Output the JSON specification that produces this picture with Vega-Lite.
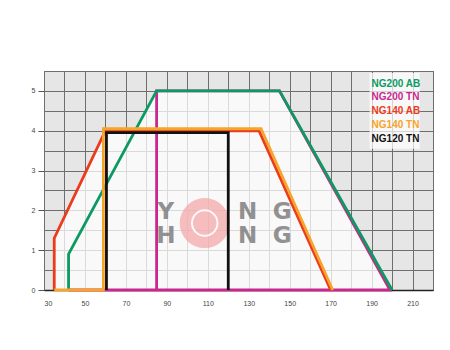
{
  "$schema": "https://vega.github.io/schema/vega-lite/v6.json",
  "width": 389,
  "height": 219,
  "autosize": "none",
  "padding": {"left": 44, "top": 71, "right": 17, "bottom": 60},
  "background": "white",
  "config": {
    "view": {"fill": "#e6e6e6", "stroke": "#777", "strokeWidth": 1},
    "font": "Liberation Sans"
  },
  "datasets": {
    "lines": [
      {"series": "NG200 TN", "o": 1, "x": 42, "y": 0},
      {"series": "NG200 TN", "o": 2, "x": 199, "y": 0},
      {"series": "NG200 TN", "o": 3, "x": 145, "y": 5},
      {"series": "NG200 TN", "o": 4, "x": 85, "y": 5},
      {"series": "NG200 TN", "o": 5, "x": 85, "y": 0},
      {"series": "NG200 AB", "o": 1, "x": 42, "y": 0},
      {"series": "NG200 AB", "o": 2, "x": 42, "y": 0.9},
      {"series": "NG200 AB", "o": 3, "x": 85, "y": 5},
      {"series": "NG200 AB", "o": 4, "x": 145, "y": 5},
      {"series": "NG200 AB", "o": 5, "x": 200, "y": 0},
      {"series": "NG140 AB", "o": 1, "x": 35, "y": 0},
      {"series": "NG140 AB", "o": 2, "x": 35, "y": 1.3},
      {"series": "NG140 AB", "o": 3, "x": 60, "y": 4},
      {"series": "NG140 AB", "o": 4, "x": 135, "y": 4},
      {"series": "NG140 AB", "o": 5, "x": 170, "y": 0},
      {"series": "NG140 TN", "o": 1, "x": 35, "y": 0},
      {"series": "NG140 TN", "o": 2, "x": 59, "y": 0},
      {"series": "NG140 TN", "o": 3, "x": 59, "y": 4.05},
      {"series": "NG140 TN", "o": 4, "x": 136, "y": 4.05},
      {"series": "NG140 TN", "o": 5, "x": 171, "y": 0},
      {"series": "NG120 TN", "o": 1, "x": 60.5, "y": 0},
      {"series": "NG120 TN", "o": 2, "x": 60.5, "y": 3.95},
      {"series": "NG120 TN", "o": 3, "x": 120, "y": 3.95},
      {"series": "NG120 TN", "o": 4, "x": 120, "y": 0}
    ],
    "envelope": [
      {"x": 35, "y": 1.3},
      {"x": 60, "y": 4},
      {"x": 74.5, "y": 4},
      {"x": 85, "y": 5},
      {"x": 145, "y": 5},
      {"x": 200, "y": 0}
    ],
    "watermark": [
      {"t": "Y", "x": 89.5, "y": 1.96},
      {"t": "N", "x": 129.5, "y": 1.96},
      {"t": "G", "x": 146.3, "y": 1.96},
      {"t": "H", "x": 89.5, "y": 1.36},
      {"t": "N", "x": 129.5, "y": 1.36},
      {"t": "G", "x": 146.3, "y": 1.36}
    ],
    "gear": [{"x": 108.5, "y": 1.68}],
    "legendbox": [{"x": 189, "x2": 213.5, "y": 5.45, "y2": 3.55}],
    "legend": [
      {"label": "NG200 AB", "x": 190, "y": 5.18},
      {"label": "NG200 TN", "x": 190, "y": 4.85},
      {"label": "NG140 AB", "x": 190, "y": 4.5},
      {"label": "NG140 TN", "x": 190, "y": 4.15},
      {"label": "NG120 TN", "x": 190, "y": 3.8}
    ]
  },
  "layer": [
    {
      "data": {"name": "envelope"},
      "mark": {"type": "area", "color": "white", "opacity": 0.75},
      "encoding": {
        "x": {
          "field": "x", "type": "quantitative",
          "scale": {"domain": [30, 220], "nice": false, "zero": false},
          "axis": {
            "title": null,
            "tickCount": 19,
            "labelExpr": "datum.value % 20 == 10 && datum.value < 220 ? datum.label : ' '",
            "grid": true, "gridColor": "#6e6e6e", "gridOpacity": 1, "gridWidth": 1,
            "ticks": false, "domain": true, "domainColor": "#222", "domainWidth": 1.5,
            "labelFontSize": 7, "labelColor": "#444", "labelPadding": 9, "labelOverlap": false
          }
        },
        "y": {
          "field": "y", "type": "quantitative",
          "scale": {"domain": [0, 5.5], "nice": false},
          "axis": {
            "title": null,
            "tickCount": 11,
            "labelExpr": "datum.value % 1 == 0 ? format(datum.value, 'd') : ' '",
            "grid": true, "gridColor": "#6e6e6e", "gridOpacity": 1, "gridWidth": 1,
            "ticks": true, "tickSize": 6, "tickColor": "#555",
            "tickOpacity": {"condition": {"test": "datum.value % 1 == 0", "value": 1}, "value": 0},
            "domain": false,
            "labelFontSize": 7, "labelColor": "#444", "labelPadding": 3, "labelOverlap": false
          }
        }
      }
    },
    {
      "data": {"name": "gear"},
      "mark": {"type": "point", "shape": "circle", "size": 2500, "filled": true, "color": "#f3a8a8", "opacity": 0.75},
      "encoding": {"x": {"field": "x", "type": "quantitative"}, "y": {"field": "y", "type": "quantitative"}}
    },
    {
      "data": {"name": "gear"},
      "mark": {"type": "point", "shape": "circle", "size": 650, "filled": false, "color": "white", "strokeWidth": 2, "opacity": 0.9},
      "encoding": {"x": {"field": "x", "type": "quantitative"}, "y": {"field": "y", "type": "quantitative"}}
    },
    {
      "data": {"name": "watermark"},
      "mark": {"type": "text", "fontSize": 23, "fontWeight": "bold", "font": "DejaVu Sans", "color": "#7f7f7f", "opacity": 0.85, "baseline": "middle", "align": "center"},
      "encoding": {
        "x": {"field": "x", "type": "quantitative"},
        "y": {"field": "y", "type": "quantitative"},
        "text": {"field": "t"}
      }
    },
    {
      "data": {"name": "lines"},
      "mark": {"type": "line", "strokeWidth": 2.8, "strokeJoin": "miter"},
      "encoding": {
        "x": {"field": "x", "type": "quantitative"},
        "y": {"field": "y", "type": "quantitative"},
        "order": {"field": "o"},
        "color": {
          "field": "series", "type": "nominal", "legend": null,
          "scale": {
            "domain": ["NG200 TN", "NG200 AB", "NG140 AB", "NG140 TN", "NG120 TN"],
            "range": ["#c8288e", "#0c9a62", "#ec3a1c", "#f7a42a", "#111111"]
          }
        }
      }
    },
    {
      "data": {"name": "legendbox"},
      "mark": {"type": "rect", "color": "white", "opacity": 0.7},
      "encoding": {
        "x": {"field": "x", "type": "quantitative"},
        "x2": {"field": "x2"},
        "y": {"field": "y", "type": "quantitative"},
        "y2": {"field": "y2"}
      }
    },
    {
      "data": {"name": "legend"},
      "mark": {"type": "text", "fontSize": 10, "fontWeight": "bold", "align": "left", "baseline": "middle"},
      "encoding": {
        "x": {"field": "x", "type": "quantitative"},
        "y": {"field": "y", "type": "quantitative"},
        "text": {"field": "label"},
        "color": {
          "field": "label", "type": "nominal", "legend": null,
          "scale": {
            "domain": ["NG200 TN", "NG200 AB", "NG140 AB", "NG140 TN", "NG120 TN"],
            "range": ["#c8288e", "#0c9a62", "#ec3a1c", "#f7a42a", "#111111"]
          }
        }
      }
    }
  ]
}
